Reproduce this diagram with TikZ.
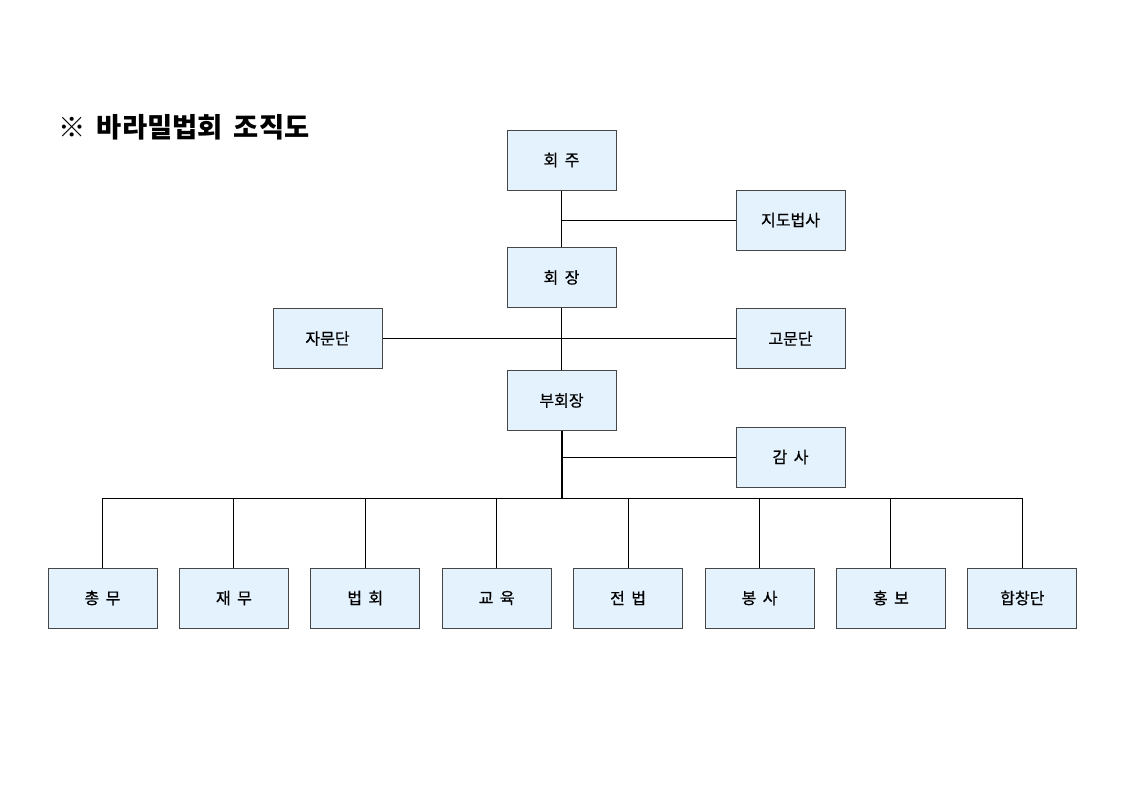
\documentclass[tikz,border=0pt]{standalone}
\usepackage{fontspec}
\setmainfont{Noto Sans CJK KR}[WordSpace=1.8]
\newfontfamily\boxfont{Noto Sans CJK KR}[WordSpace=1.8, FakeBold=0.8]
\definecolor{boxblue}{RGB}{227,242,253}
\definecolor{boxline}{RGB}{70,70,70}
\tikzset{
  orgbox/.style={draw=boxline, line width=0.75pt, fill=boxblue, minimum width=81.75pt,
    minimum height=45pt, inner sep=0pt, font=\boxfont\fontsize{12}{14}\selectfont},
  link/.style={line width=0.75pt},
  mainlink/.style={line width=1.5pt}
}
\begin{document}
\begin{tikzpicture}[x=0.75pt,y=-0.75pt]
\useasboundingbox (0,0) rectangle (1123,794);
% title
\node[anchor=west, inner sep=0pt, font=\bfseries\fontsize{20.5}{24}\selectfont] (title) at (58,127) {※ 바라밀법회 조직도};
% upper part
\node[orgbox] (hoeju) at (561.5,160) {회 주};
\node[orgbox] (jido) at (790.5,220) {지도법사};
\node[orgbox] (hoejang) at (561.5,277.5) {회 장};
\node[orgbox] (jamun) at (327.5,338.5) {자문단};
\node[orgbox] (gomun) at (790.5,338.5) {고문단};
\node[orgbox] (buhoe) at (561.5,400.5) {부회장};
\node[orgbox] (gamsa) at (790.5,457) {감 사};
\coordinate (bus) at (561.5,498);
% departments
\foreach \name/\txt [count=\i from 0] in {b1/총 무, b2/재 무, b3/법 회, b4/교 육, b5/전 법, b6/봉 사, b7/홍 보, b8/합창단}
  \node[orgbox] (\name) at (102.5+131.4*\i,598) {\txt};
% connectors
\draw[link] (hoeju) -- (hoejang);
\draw[link] (hoeju.south |- jido.west) -- (jido.west);
\draw[link] (hoejang) -- (buhoe);
\draw[link] (jamun.east) -- (gomun.west);
\draw[mainlink] (buhoe.south) -- (bus);
\draw[link] (buhoe.south |- gamsa.west) -- (gamsa.west);
\draw[link] (b1.north |- bus) -- (b8.north |- bus);
\foreach \name in {b1,b2,b3,b4,b5,b6,b7,b8}
  \draw[link] (\name.north) -- (\name.north |- bus);
\end{tikzpicture}
\end{document}
